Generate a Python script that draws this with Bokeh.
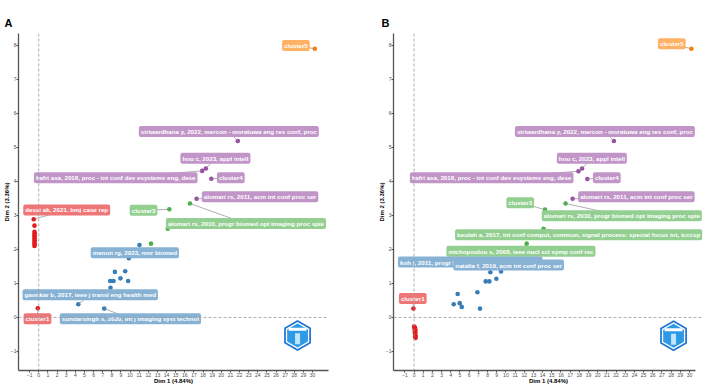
import math
from bokeh.plotting import figure
from bokeh.layouts import row
from bokeh.models import FixedTicker, Span, ColumnDataSource, Range1d
from bokeh.embed import file_html
from bokeh.resources import INLINE
from bokeh.core.properties import value

# ---------------- data ----------------
clusters = ["cluster1", "cluster2", "cluster3", "cluster4", "cluster5"]
cluster_colors = ["#E41A1C", "#377EB8", "#4DAF4A", "#984EA3", "#FF7F00"]

# Panel A points per cluster
a_c1_x = [-0.55, -0.47, -0.47, -0.45, -0.47, -0.45, -0.47, -0.45, -0.47, -0.45, -0.47, -0.10]
a_c1_y = [2.89, 2.70, 2.52, 2.47, 2.42, 2.37, 2.32, 2.27, 2.21, 2.15, 2.10, 0.27]
a_c2_x = [4.33, 7.17, 7.86, 7.83, 8.19, 8.34, 8.95, 9.47, 9.79, 9.87, 11.03]
a_c2_y = [0.39, 0.26, 0.87, 1.07, 1.07, 1.34, 1.15, 1.36, 1.07, 1.74, 2.13]
a_c3_x = [12.30, 14.13, 14.30, 16.56]
a_c3_y = [2.17, 2.61, 3.18, 3.35]
a_c4_x = [17.29, 17.90, 18.31, 18.90, 21.80]
a_c4_y = [3.49, 4.31, 4.38, 4.08, 5.19]
a_c5_x = [30.24]
a_c5_y = [7.90]

# Panel B points per cluster
b_c1_x = [-0.07, 0.00, 0.10, 0.05, 0.15, 0.08, 0.13, 0.10, 0.15, 0.12, 0.17]
b_c1_y = [0.26, -0.27, -0.30, -0.34, -0.37, -0.41, -0.44, -0.48, -0.52, -0.56, -0.60]
b_c2_x = [9.47, 8.31, 8.96, 7.80, 8.20, 6.90, 4.75, 4.32, 4.97, 5.19, 7.18]
b_c2_y = [1.35, 1.33, 1.14, 1.06, 1.06, 0.74, 0.69, 0.39, 0.42, 0.31, 0.26]
b_c3_x = [12.26, 14.10, 14.26, 16.50]
b_c3_y = [2.17, 2.61, 3.17, 3.35]
b_c4_x = [17.27, 17.90, 18.30, 18.87, 21.76]
b_c4_y = [3.49, 4.30, 4.38, 4.07, 5.19]
b_c5_x = [30.20]
b_c5_y = [7.90]

# labels: text, cluster index, labelled point (x, y)
a_label_text = ["cluster5",
                "siriwardhana y, 2022, mercon - moratuwa eng res conf, proc",
                "hou c, 2023, appl intell",
                "kafri asa, 2018, proc - int conf dev esystems eng, dese",
                "cluster4",
                "alomari rs, 2011, acm int conf proc ser",
                "cluster3",
                "alomari rs, 2010, progr biomed opt imaging proc spie",
                "desai ak, 2021, bmj case rep",
                "menon rg, 2023, nmr biomed",
                "gaonkar b, 2017, ieee j transl eng health med",
                "cluster1",
                "sundarsingh s, 2020, int j imaging syst technol"]
a_label_cluster = [4, 3, 3, 3, 3, 3, 2, 2, 0, 1, 1, 0, 1]
a_label_px = [30.24, 21.80, 18.31, 17.90, 18.90, 17.29, 14.30, 16.56, -0.55, 9.87, 4.33, -0.10, 7.17]
a_label_py = [7.90, 5.19, 4.38, 4.31, 4.08, 3.49, 3.18, 3.35, 2.89, 1.74, 0.39, 0.27, 0.26]

b_label_text = ["cluster5",
                "siriwardhana y, 2022, mercon - moratuwa eng res conf, proc",
                "hou c, 2023, appl intell",
                "kafri asa, 2018, proc - int conf dev esystems eng, dese",
                "cluster4",
                "alomari rs, 2011, acm int conf proc ser",
                "cluster3",
                "alomari rs, 2010, progr biomed opt imaging proc spie",
                "beulah a, 2017, int conf comput, commun, signal process: special focus iot, icccsp",
                "michopoulou s, 2008, ieee nucl sci symp conf rec",
                "koh j, 2011, progr biomed opt imaging proc spie",
                "natalia f, 2019, acm int conf proc ser",
                "cluster1"]
b_label_cluster = [4, 3, 3, 3, 3, 3, 2, 2, 2, 2, 1, 1, 0]
b_label_px = [30.20, 21.76, 18.30, 17.90, 18.87, 17.27, 14.26, 16.50, 14.10, 12.26, None, None, -0.07]
b_label_py = [7.90, 5.19, 4.38, 4.30, 4.07, 3.49, 3.17, 3.35, 2.61, 2.17, None, None, 0.26]

# label placement (layout, data units)
a_label_lx = [28.17, 20.82, 19.35, 8.43, 21.04, 24.24, 11.48, 22.70, 3.06, 10.52, 5.64, -0.14, 10.04]
a_label_ly = [8.00, 5.47, 4.68, 4.11, 4.11, 3.55, 3.15, 2.76, 3.16, 1.90, 0.67, -0.035, -0.035]
b_label_lx = [28.07, 20.78, 19.36, 8.45, 20.99, 24.21, 11.56, 22.62, 17.92, 11.64, 6.12, 10.30, -0.14]
b_label_ly = [8.05, 5.47, 4.68, 4.11, 4.11, 3.55, 3.37, 2.99, 2.43, 1.95, 1.63, 1.54, 0.56]

x_ticks = list(range(-1, 31))
y_ticks = list(range(-1, 9))
x_title = "Dim 1 (4.84%)"
y_title = "Dim 2 (3.36%)"

FONT = "Liberation Sans"


def lighten(hexcol, a=0.6):
    r, g, b = int(hexcol[1:3], 16), int(hexcol[3:5], 16), int(hexcol[5:7], 16)
    f = lambda c: int(round(c * a + 255 * (1 - a)))
    return "#%02x%02x%02x" % (f(r), f(g), f(b))


def make_panel(letter, xr, xbounds, pts, lab_text, lab_cl, lab_px, lab_py, lab_lx, lab_ly,
               logo_xy, bl, br, title_off):
    p = figure(width=354, height=388, x_range=Range1d(*xr), y_range=Range1d(-1.56, 8.35),
               output_backend="svg", toolbar_location=None,
               min_border_left=bl, min_border_right=br, min_border_top=33, min_border_bottom=18)
    p.title.text = letter
    p.title.align = "left"
    p.title.offset = title_off
    p.title.text_font = FONT
    p.title.text_font_size = "11px"
    p.title.text_font_style = "bold"
    p.title.text_color = "black"
    p.outline_line_color = None
    p.xgrid.visible = False
    p.ygrid.visible = False
    p.background_fill_color = "white"
    for ax, ticks, title in ((p.xaxis[0], x_ticks, x_title), (p.yaxis[0], y_ticks, y_title)):
        ax.ticker = FixedTicker(ticks=ticks)
        ax.axis_label = title
        ax.axis_label_text_font = FONT
        ax.axis_label_text_font_size = "6px"
        ax.axis_label_text_font_style = "bold"
        ax.axis_label_text_color = "black"
        ax.axis_label_standoff = -2
        ax.major_label_text_font = FONT
        ax.major_label_text_font_size = "5px"
        ax.major_label_text_color = "#4D4D4D"
        ax.major_label_standoff = 0
        ax.major_tick_out = 2
        ax.major_tick_in = 0
        ax.major_tick_line_color = "#4D4D4D"
        ax.minor_tick_line_color = None
        ax.axis_line_color = "#555555"
        ax.axis_line_width = 1.3
    p.xaxis[0].bounds = xbounds

    p.add_layout(Span(location=0, dimension="height", line_color="#9a9a9a",
                      line_dash="3 2", line_width=0.8))
    p.add_layout(Span(location=0, dimension="width", line_color="#9a9a9a",
                      line_dash="3 2", line_width=0.8))

    for i, (xs, ys) in enumerate(pts):
        p.scatter(xs, ys, size=4.6, color=cluster_colors[i], line_width=0)

    # leader segments
    sx0, sy0, sx1, sy1 = [], [], [], []
    for px_, py_, lx, ly in zip(lab_px, lab_py, lab_lx, lab_ly):
        if px_ is None:
            continue
        sx0.append(px_); sy0.append(py_); sx1.append(lx); sy1.append(ly)
    p.segment(sx0, sy0, sx1, sy1, line_color="#8c8c8c", line_width=0.7)

    # labels drawn in order so later boxes cover earlier ones
    for t, c, lx, ly in zip(lab_text, lab_cl, lab_lx, lab_ly):
        p.text([lx], [ly], text=[t], text_font=value(FONT), text_font_size="6.2px",
               text_font_style="bold", text_color="white", text_align="center",
               text_baseline="middle", background_fill_color=lighten(cluster_colors[c]),
               padding=(2, 2), border_radius=2)

    # logo
    lx, ly = logo_xy
    p.scatter([lx], [ly], marker="hex", angle=math.pi / 2, size=31, fill_color="#2174d4",
              line_color=None)
    p.scatter([lx], [ly], marker="hex", angle=math.pi / 2, size=27, fill_color="white",
              line_color=None)
    p.scatter([lx], [ly], marker="hex", angle=math.pi / 2, size=24, fill_color="#2e9ae6",
              line_color=None)
    p.rect([lx], [ly + 0.18], width=18, height=3, width_units="screen", height_units="screen",
           fill_color="white", line_color=None)
    p.rect([lx], [ly - 0.1], width=5, height=11, width_units="screen", height_units="screen",
           fill_color="#bfe6fb", line_color=None)
    return p


pA = make_panel("A", (-2.22, 31.74), (-2.22, 31.74),
                [(a_c1_x, a_c1_y), (a_c2_x, a_c2_y), (a_c3_x, a_c3_y), (a_c4_x, a_c4_y), (a_c5_x, a_c5_y)],
                a_label_text, a_label_cluster, a_label_px, a_label_py, a_label_lx, a_label_ly,
                (28.35, -0.53), 17, 26, -14)
pB = make_panel("B", (-2.24, 31.52), (-2.24, 30.65),
                [(b_c1_x, b_c1_y), (b_c2_x, b_c2_y), (b_c3_x, b_c3_y), (b_c4_x, b_c4_y), (b_c5_x, b_c5_y)],
                b_label_text, b_label_cluster, b_label_px, b_label_py, b_label_lx, b_label_ly,
                (28.26, -0.54), 39, 5, -12)

layout = row(pA, pB, spacing=0)
open("out.html", "w").write(file_html(layout, INLINE))
